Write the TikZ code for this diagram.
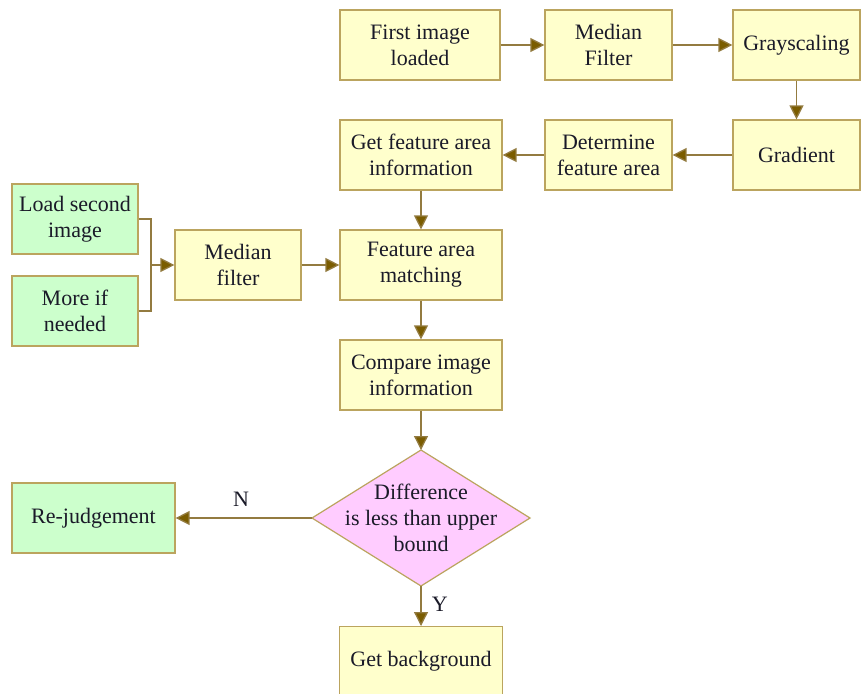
\documentclass[tikz,border=0pt]{standalone}
\usepackage{fontspec}
\setmainfont{Liberation Serif}
\usetikzlibrary{arrows.meta}
\definecolor{boxline}{HTML}{BBA45E}
\definecolor{yel}{HTML}{FFFFCC}
\definecolor{grn}{HTML}{CCFFCC}
\definecolor{pnk}{HTML}{FFCCFF}
\definecolor{arr}{HTML}{937B40}
\definecolor{tip}{HTML}{7A5C00}
\definecolor{txt}{HTML}{1A1A28}
\tikzset{
  base/.style={draw=boxline, line width=1.2pt, text=txt, align=center, inner sep=0pt,
    font=\fontsize{22}{26}\selectfont, minimum height=70pt},
  ybox/.style={base, fill=yel},
  gbox/.style={base, fill=grn},
  conn/.style={draw=arr, line width=1.3pt, -{Triangle[length=14pt,width=14pt,fill=tip]}},
  plain/.style={draw=arr, line width=1.3pt},
  lab/.style={text=txt, font=\fontsize{22}{26}\selectfont}
}
\begin{document}
\begin{tikzpicture}[x=1pt,y=-1pt]
\useasboundingbox (0,0) rectangle (861,693);
\clip (0,0) rectangle (861,693);
\fill[white] (0,0) rectangle (861,693);
% top row
\node[ybox, minimum width=160pt] (f1) at (420,45) {First image\\loaded};
\node[ybox, minimum width=127pt] (mf1) at (608.5,45) {Median\\Filter};
\node[ybox, minimum width=127pt] (gray) at (796.5,45) {Grayscaling};
% second row
\node[ybox, minimum width=127pt] (grad) at (796.5,155) {Gradient};
\node[ybox, minimum width=127pt] (det) at (608.5,155) {Determine\\feature area};
\node[ybox, minimum width=162pt] (gfi) at (421,155) {Get feature area\\information};
% third row
\node[ybox, minimum width=162pt] (fam) at (421,265) {Feature area\\matching};
\node[ybox, minimum width=126pt] (mf2) at (238,265) {Median\\filter};
\node[gbox, minimum width=126pt] (ls) at (75,219) {Load second\\image};
\node[gbox, minimum width=126pt] (more) at (75,311) {More if\\needed};
% compare
\node[ybox, minimum width=162pt] (cmp) at (421,375) {Compare image\\information};
% diamond
\coordinate (dc) at (421,518);
\coordinate (dt) at (421,450);
\coordinate (db) at (421,586);
\coordinate (dl) at (312,518);
\coordinate (dr) at (530,518);
\draw[draw=boxline, line width=1.2pt, fill=pnk] (dt) -- (dr) -- (db) -- (dl) -- cycle;
\node[lab, align=center] (dtext) at (dc) {Difference\\is less than upper\\bound};
% results
\node[gbox, minimum width=163pt] (rej) at (93.5,518) {Re-judgement};
\node[ybox, minimum width=163pt, anchor=north] (bg) at (421,626) {Get background};
% connectors
\draw[conn] (f1) -- (mf1);
\draw[conn] (mf1) -- (gray);
\draw[conn] (gray) -- (grad);
\draw[conn] (grad) -- (det);
\draw[conn] (det) -- (gfi);
\draw[conn] (gfi) -- (fam);
\draw[conn] (mf2) -- (fam);
\coordinate (j) at (151,265);
\draw[plain] (ls.east) -| (j);
\draw[plain] (more.east) -| (j);
\draw[conn] (j) -- (mf2.west);
\draw[conn] (fam) -- (cmp);
\draw[conn] (cmp) -- (dt);
\draw[conn] (dl) -- (rej.east) node[lab, pos=0.52, above=8pt] (nlab) {N};
\draw[conn] (db) -- (bg.north) node[lab, pos=0.45, right=7pt] (ylab) {Y};
\end{tikzpicture}
\end{document}
